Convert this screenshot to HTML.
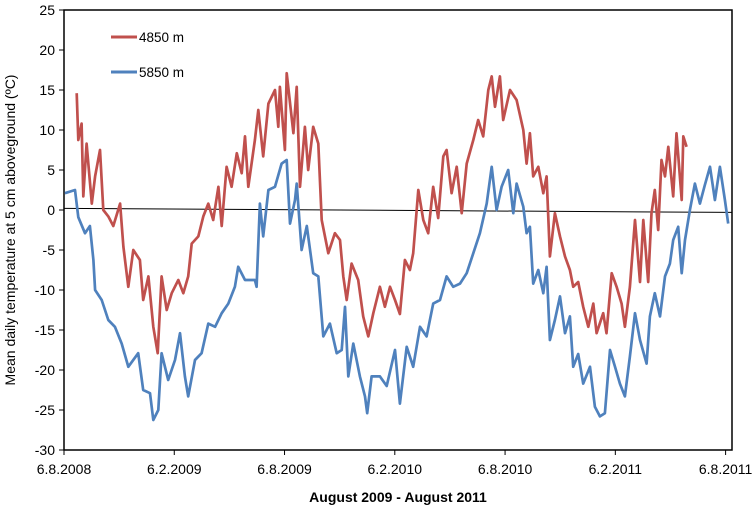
<!DOCTYPE html>
<html><head><meta charset="utf-8"><style>
body{margin:0;background:#fff;width:756px;height:513px;overflow:hidden;font-family:"Liberation Sans",sans-serif}
svg text{font-family:"Liberation Sans",sans-serif}
</style></head><body>
<svg id="chart" width="756" height="513" viewBox="0 0 756 513" xmlns="http://www.w3.org/2000/svg"></svg>
<script>
const xTickLabels=["6.8.2008","6.2.2009","6.8.2009","6.2.2010","6.8.2010","6.2.2011","6.8.2011"];
const yTicks=[25,20,15,10,5,0,-5,-10,-15,-20,-25,-30];
const blueMonths=[0.05,0.60,0.78,1.14,1.41,1.60,1.69,2.05,2.41,2.77,3.14,3.50,4.04,4.31,4.68,4.86,5.13,5.31,5.67,6.04,6.31,6.58,6.76,7.13,7.49,7.85,8.22,8.58,8.94,9.30,9.48,9.85,10.39,10.48,10.66,10.84,11.12,11.48,11.84,12.12,12.30,12.57,12.66,12.93,13.21,13.56,13.84,14.11,14.47,14.84,15.11,15.29,15.47,15.74,16.10,16.38,16.50,16.74,17.19,17.56,18.01,18.28,18.65,19.00,19.37,19.73,20.09,20.46,20.82,21.18,21.55,21.91,22.27,22.63,23.00,23.27,23.54,23.81,24.17,24.45,24.63,24.99,25.17,25.35,25.53,25.81,26.08,26.26,26.44,26.71,26.99,27.26,27.53,27.71,27.98,28.25,28.62,28.89,29.16,29.43,29.71,29.98,30.25,30.52,30.79,31.07,31.34,31.70,31.88,32.15,32.43,32.70,32.97,33.15,33.42,33.61,33.79,34.06,34.33,34.60,34.87,35.15,35.42,35.69,35.96,36.14];
const blueValues=[2.1,2.5,-0.9,-2.9,-2,-6.25,-10,-11.25,-13.75,-14.6,-16.7,-19.6,-17.9,-22.5,-22.9,-26.25,-25,-17.9,-21.25,-18.75,-15.4,-20.8,-23.3,-18.75,-17.9,-14.2,-14.6,-12.9,-11.7,-9.6,-7.1,-8.75,-8.75,-9.6,0.8,-3.3,2.5,2.9,5.8,6.25,-1.7,1.25,3.3,-5,-2,-7.9,-8.3,-15.8,-14.2,-17.9,-17.5,-12.1,-20.8,-16.7,-20.8,-23.3,-25.4,-20.8,-20.8,-22,-17.5,-24.2,-17.1,-19.6,-14.6,-15.8,-11.7,-11.25,-8.3,-9.6,-9.2,-7.9,-5.4,-2.9,0.8,5.4,0,2.9,5,-0.4,3.3,0.4,-2.9,-2.1,-9.2,-7.5,-10.4,-7.1,-16.25,-13.75,-10.8,-15.4,-13.3,-19.6,-18,-21.7,-19.6,-24.6,-25.8,-25.4,-17.5,-19.6,-21.7,-23.3,-18.3,-12.9,-16.25,-19.2,-13.3,-10.4,-13.3,-8.3,-6.7,-3.75,-2.1,-7.9,-3.75,0,3.3,0.8,3.1,5.4,1.25,5.4,1.25,-1.7];
const redMonths=[0.69,0.78,0.96,1.05,1.23,1.51,1.69,1.96,2.14,2.41,2.68,3.05,3.23,3.50,3.77,4.13,4.31,4.59,4.86,5.10,5.31,5.59,5.86,6.22,6.49,6.76,6.95,7.31,7.58,7.85,8.12,8.40,8.58,8.85,9.12,9.40,9.67,9.85,10.03,10.39,10.57,10.84,11.12,11.48,11.66,11.75,12.02,12.12,12.48,12.66,12.84,13.11,13.29,13.56,13.84,14.02,14.38,14.74,15.02,15.20,15.38,15.65,16.01,16.28,16.56,16.83,17.19,17.46,17.74,18.01,18.28,18.55,18.82,19.00,19.28,19.55,19.82,20.09,20.36,20.64,20.82,21.09,21.37,21.64,21.91,22.27,22.54,22.81,23.09,23.27,23.45,23.72,23.90,24.27,24.63,24.99,25.17,25.35,25.53,25.81,26.08,26.26,26.44,26.71,26.99,27.26,27.53,27.71,27.98,28.25,28.53,28.80,28.98,29.34,29.52,29.80,30.07,30.34,30.52,30.79,31.07,31.34,31.52,31.79,31.97,32.15,32.33,32.51,32.70,32.88,33.15,33.33,33.61,33.70,33.88];
const redValues=[14.6,8.75,10.8,1.7,8.3,0.8,4.2,7.5,0,-0.8,-2,0.8,-4.6,-9.6,-5,-6.25,-11.25,-8.3,-14.6,-17.9,-8.3,-12.5,-10.4,-8.75,-10.4,-8.3,-4.2,-3.3,-0.8,0.8,-1.25,2.9,-2,5.4,2.9,7.1,4.6,9.2,2.9,8.75,12.5,6.7,13.3,15,10.4,15.4,7.5,17.1,9.6,15.4,2.9,10.4,5,10.4,8.3,-1.25,-5.4,-2.9,-3.75,-8.3,-11.25,-6.7,-8.75,-13.3,-15.8,-12.9,-9.6,-12.1,-9.6,-11.25,-13,-6.25,-7.5,-5.4,2.5,-1.25,-2.9,2.9,-1,6.7,7.5,2.1,5.4,-0.4,5.8,8.75,11.25,9.2,15,16.7,12.9,16.7,11.25,15,13.75,10,5.8,9.6,4.2,5.4,2.1,4.2,-5.8,-0.4,-3.3,-5.8,-7.5,-9.6,-9,-12.1,-14.6,-11.7,-15.4,-12.9,-15.4,-7.9,-9.6,-11.7,-14.6,-9.6,-1.25,-9,-1.25,-9,-0.4,2.5,-2.5,6.25,4.2,7.9,1.7,9.6,1.25,9.2,7.9];

const svg=document.getElementById('chart');
const NS='http://www.w3.org/2000/svg';
const X0=64,X1=732,Y0=10,Y1=450;
const xs=m=>X0+m*(725.6-X0)/36;
const ys=v=>Y1-(v+30)*(Y1-Y0)/55;
function mk(tag,attrs,parent){const e=document.createElementNS(NS,tag);for(const k in attrs)e.setAttribute(k,attrs[k]);(parent||svg).appendChild(e);return e;}

const frame=mk('rect',{x:X0,y:Y0,width:X1-X0,height:Y1-Y0,fill:'none',stroke:'#000','stroke-width':1.5});



yTicks.forEach(v=>{
  const t=mk('line',{x1:X0-5,x2:X0,y1:ys(v),y2:ys(v),stroke:'#000'});
  
  
  const l=mk('text',{x:X0-9,y:ys(v)+5,'text-anchor':'end','font-size':14,fill:'#000'});
  l.textContent=v;
  
  
});
xTickLabels.forEach((s,i)=>{
  const x=xs(i*6);
  const t=mk('line',{x1:x,x2:x,y1:Y1,y2:Y1+5,stroke:'#000'});
  
  
  const l=mk('text',{x:x,y:474,'text-anchor':'middle','font-size':14,fill:'#000'});
  l.textContent=s;
  
  
});

const zero=mk('line',{x1:X0,x2:X1,y1:ys(0.2),y2:ys(-0.3),stroke:'#000','stroke-width':1});



function series(ms,vs,color,name){
  const d=ms.map((m,i)=>(i?'L':'M')+xs(m).toFixed(1)+','+ys(vs[i]).toFixed(1)).join('');
  const p=mk('path',{d:d,fill:'none',stroke:color,'stroke-width':2.7,'stroke-linejoin':'round'});
  
  
}
series(blueMonths,blueValues,'#4F81BD','series-5850m');
series(redMonths,redValues,'#C0504D','series-4850m');

function legend(y,color,label,name){
  const g=mk('g',{});
  
  
  mk('line',{x1:111,x2:137,y1:y,y2:y,stroke:color,'stroke-width':3},g);
  const t=mk('text',{x:139,y:y+5,'font-size':13.5,fill:'#000'},g);
  t.textContent=label;
}
legend(37,'#C0504D','4850 m','legend-entry-4850m');
legend(72,'#4F81BD','5850 m','legend-entry-5850m');

const xt=mk('text',{x:(X0+X1)/2,y:502,'text-anchor':'middle','font-size':14,'font-weight':'bold',fill:'#000'});
xt.textContent='August 2009 - August 2011';


const yt=mk('text',{x:0,y:0,'text-anchor':'middle','font-size':14,fill:'#000',transform:'translate(15,230) rotate(-90)'});
yt.textContent='Mean daily temperature at 5 cm aboveground (ºC)';


</script>
</body></html>
